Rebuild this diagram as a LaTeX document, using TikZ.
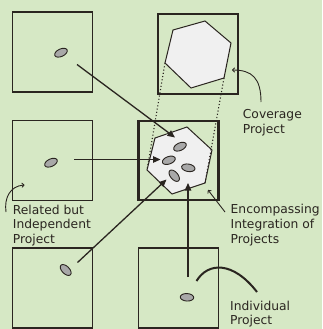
\documentclass[tikz,border=0pt]{standalone}
\usepackage{fontspec}
\setmainfont{DejaVu Sans}
\usetikzlibrary{shapes.geometric,arrows.meta}
\definecolor{bg}{HTML}{D6E8C5}
\definecolor{ink}{HTML}{2A2520}
\definecolor{hexfill}{HTML}{F0F0F0}
\definecolor{dotfill}{HTML}{A8A8A8}
\begin{document}
\begin{tikzpicture}[x=1pt,y=-1pt,
  projbox/.style={draw=ink,line width=1.6pt,minimum width=80pt,minimum height=80pt,inner sep=0pt},
  mainbox/.style={draw=ink,line width=2.6pt,minimum width=80pt,minimum height=79pt,inner sep=0pt},
  hexa/.style={draw=ink,fill=hexfill,line width=1pt,line join=miter},
  proj/.style={ellipse,draw=ink,fill=dotfill,line width=0.9pt,minimum width=13.5pt,minimum height=7.5pt,inner sep=0pt},
  flow/.style={draw=ink,line width=1.3pt,-{Triangle[length=7.5pt,width=6.5pt]}},
  lead/.style={draw=ink,line width=0.9pt,-{To[length=3pt,width=5pt]}},
  silh/.style={draw=ink,line width=1.1pt,dash pattern=on 1.1pt off 2.2pt},
  lbl/.style={anchor=base west,inner sep=0pt,text=ink,font=\fontsize{12.3}{14.8}\selectfont}]
\fill[bg] (0,0) rectangle (322,329);
\useasboundingbox (0,0) rectangle (322,329);
% boxes
\node[projbox] (tl) at (52.5,52) {};
\node[projbox] (ml) at (52.5,160.5) {};
\node[projbox] (bl) at (52.5,288) {};
\node[projbox] (tr) at (198,54) {};
\node[mainbox] (cc) at (178.5,160.5) {};
\node[projbox] (br) at (178.5,288) {};
% hexagon vertices
\coordinate (t1) at (173,30);  \coordinate (t2) at (205,21);
\coordinate (t3) at (231,43);  \coordinate (t4) at (224,78);
\coordinate (t5) at (191,88);  \coordinate (t6) at (165,63);
\coordinate (c1) at (155,138); \coordinate (c2) at (187,127);
\coordinate (c3) at (212,150); \coordinate (c4) at (205,183);
\coordinate (c5) at (172,194); \coordinate (c6) at (147,170);
\path[hexa] (t1) -- (t2) -- (t3) -- (t4) -- (t5) -- (t6) -- cycle;
\path[hexa] (c1) -- (c2) -- (c3) -- (c4) -- (c5) -- (c6) -- cycle;
\draw[silh] (t6) -- (c6);
\draw[silh] (t4) -- (c4);
% project ellipses
\node[proj,rotate=25] (ptl) at (61,52.7) {};
\node[proj,rotate=25] (pml) at (51,162.7) {};
\node[proj,rotate=-45] (pbl) at (65.7,270) {};
\node[proj,rotate=-3] (pbr) at (187,297.3) {};
\node[proj,rotate=25] (e1) at (180,146.7) {};
\node[proj,rotate=20] (e2) at (168.8,160.3) {};
\node[proj,rotate=-10] (e3) at (188.3,167.8) {};
\node[proj,rotate=-50] (e4) at (174.2,175.7) {};
% arrow ends
\coordinate (s1) at (77,64.5);   \coordinate (d1) at (175,137.5);
\coordinate (s2) at (74,159.5);  \coordinate (d2) at (160.5,159.5);
\coordinate (s3) at (77.5,262.5);\coordinate (d3) at (166.5,179.5);
\coordinate (s4) at (188,277);   \coordinate (d4) at (188,183);
\draw[flow] (s1) -- (d1);
\draw[flow] (s2) -- (d2);
\draw[flow] (s3) -- (d3);
\draw[flow] (s4) -- (d4);
% labels
\node[lbl] (lcov) at (242.7,118.5) {\begin{tabular}[t]{@{}l@{}}Coverage\\Project\end{tabular}};
\node[lbl] (lrel) at (12.7,214) {\begin{tabular}[t]{@{}l@{}}Related but\\Independent\\Project\end{tabular}};
\node[lbl] (lenc) at (230.5,213.5) {\begin{tabular}[t]{@{}l@{}}Encompassing\\Integration of\\Projects\end{tabular}};
\node[lbl] (lind) at (230,310) {\begin{tabular}[t]{@{}l@{}}Individual\\Project\end{tabular}};
% leaders
\coordinate (q1) at (261,102);  \coordinate (r1) at (232,70);
\coordinate (q2) at (6,212);    \coordinate (r2) at (24.5,185);
\coordinate (q3) at (225,212);  \coordinate (r3) at (208,190);
\coordinate (q4) at (196.5,281);\coordinate (r4) at (257,292);
\draw[lead] (q1) .. controls (261,78) and (252,70) .. (r1);
\draw[lead] (q2) .. controls (4,198) and (10,186) .. (r2);
\draw[lead] (q3) -- (r3);
\draw[draw=ink,line width=2pt] (q4) .. controls (208,262) and (233,261) .. (r4);
\end{tikzpicture}
\end{document}
